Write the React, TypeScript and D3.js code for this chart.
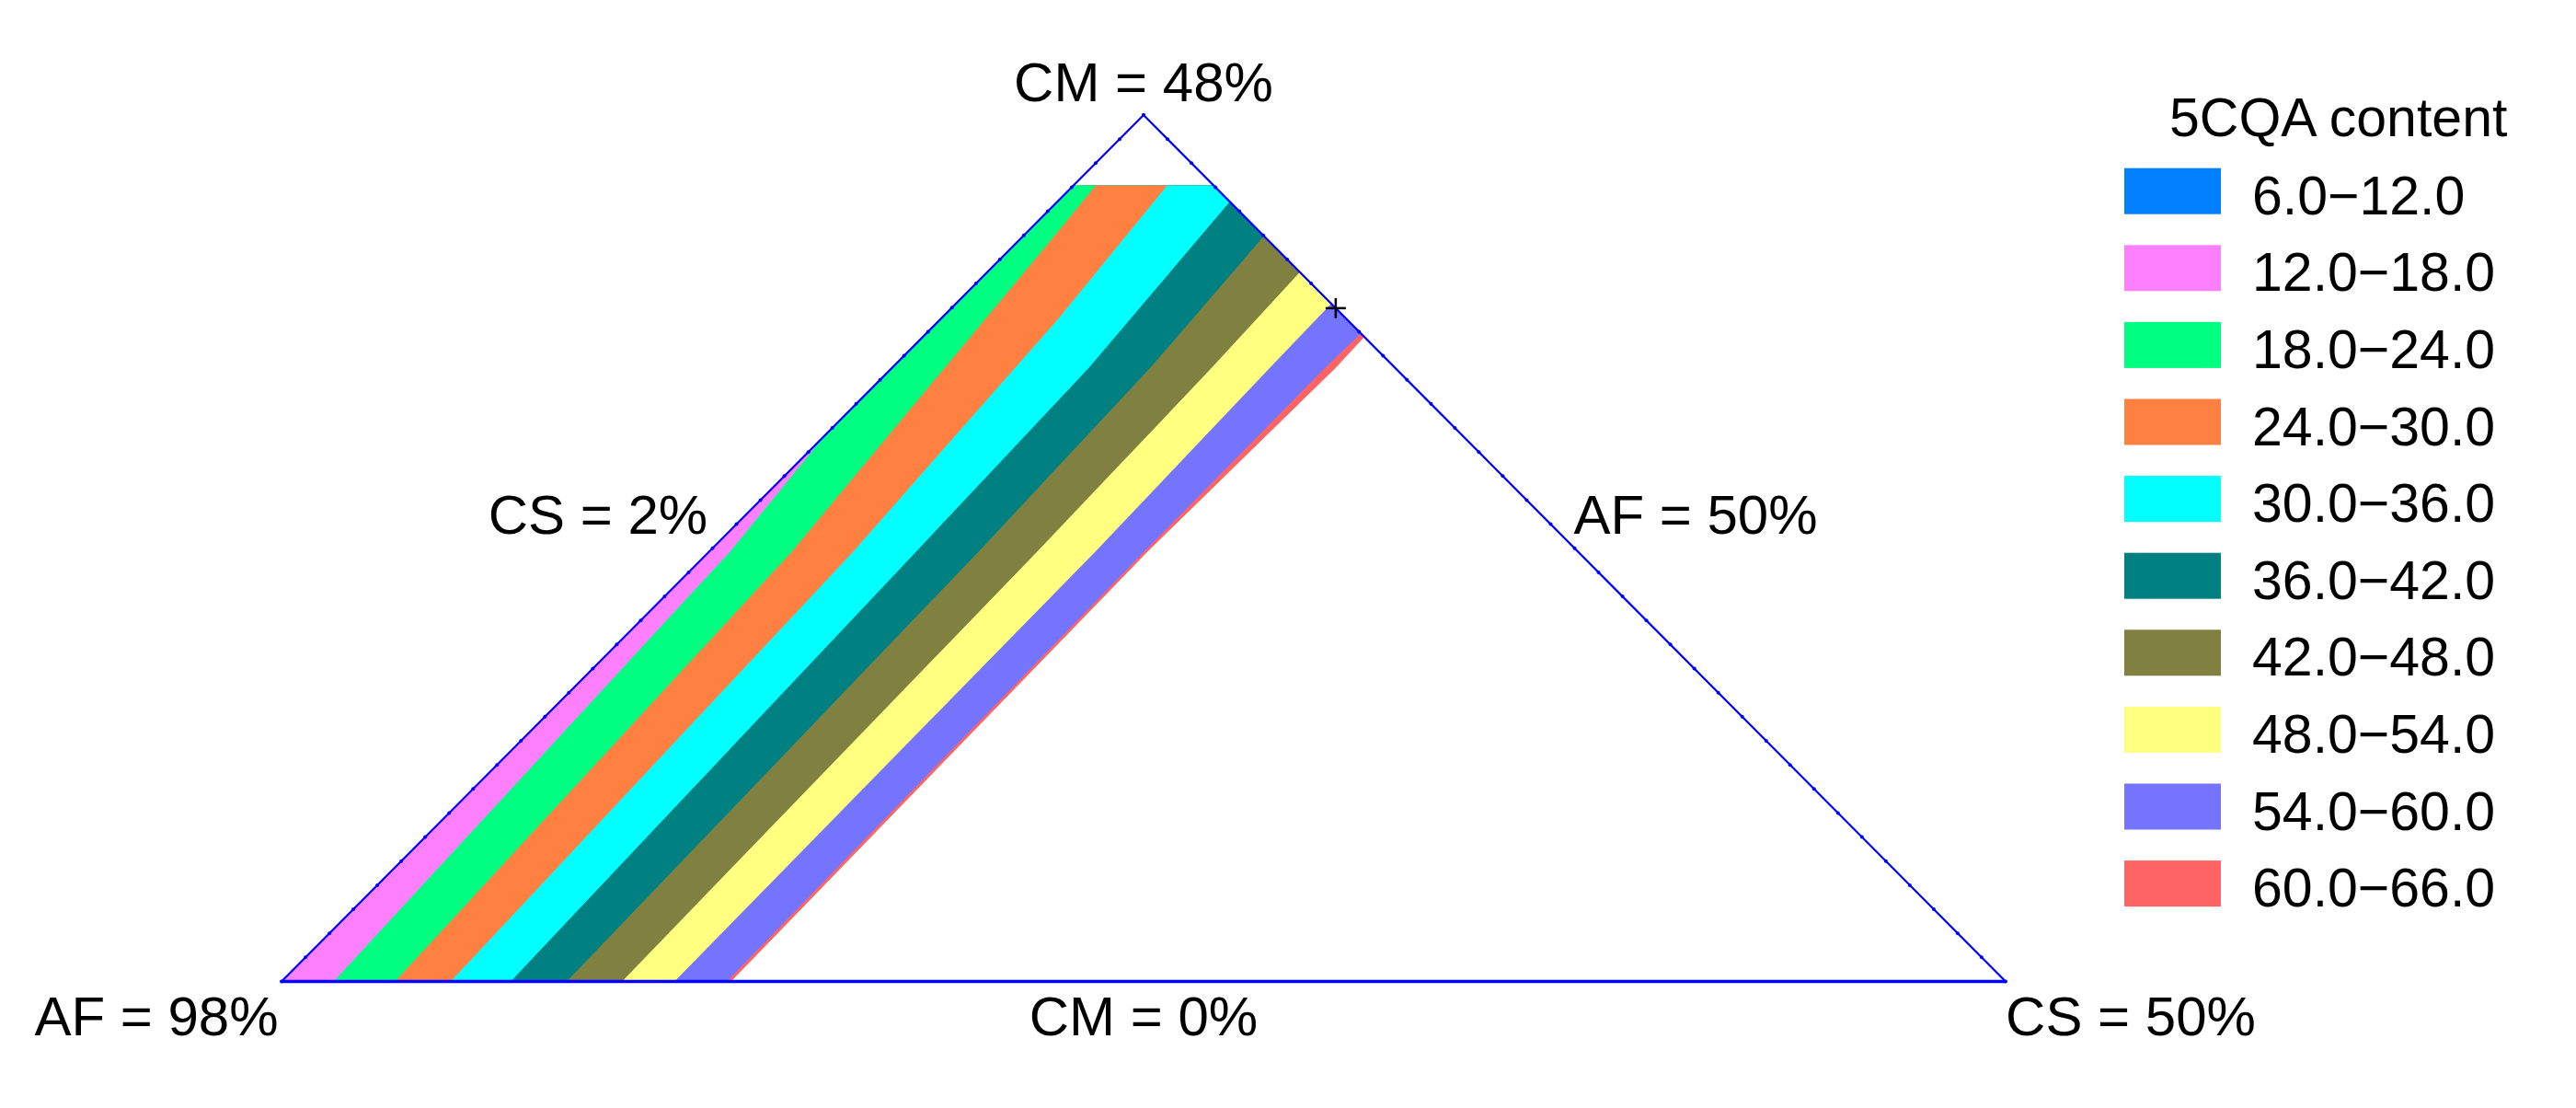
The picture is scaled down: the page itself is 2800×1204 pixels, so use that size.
import React from "react";
import * as d3 from "d3";

// ---------- data ----------
const legendTitle = "5CQA content";
const legendLabels = ["6.0−12.0", "12.0−18.0", "18.0−24.0", "24.0−30.0", "30.0−36.0", "36.0−42.0", "42.0−48.0", "48.0−54.0", "54.0−60.0", "60.0−66.0"];
const legendColors = ["#0080ff", "#ff80ff", "#00ff80", "#ff8040", "#00ffff", "#008080", "#808040", "#ffff80", "#7474ff", "#ff6464"];

// ternary sub-region limits (%)
const cmRange = [0, 48];
const csMin = 2;
const afMin = 50;
const cmCut = 44.1; // upper CM limit of the computed region

// contour boundaries: [CM %, CS %] pairs
const contour18 = [[0, 3.45], [23.8, 2.58], [30.3, 2.0]];
const contour24 = [[0, 5.16], [23.8, 4.3], [41.5, 2.85], [44.1, 2.62]];
const contour30 = [[0, 6.71], [23.8, 6.01], [36.7, 5.27], [44.1, 4.61]];
const contour36 = [[0, 8.38], [23.8, 7.76], [34, 7.48], [43.2, 6.8]];
const contour42 = [[0, 9.94], [23.8, 9.5], [34, 9.19], [41.3, 8.7]];
const contour48 = [[0, 11.48], [23.8, 11.13], [34, 10.9], [39.3, 10.7]];
const contour54 = [[0, 12.94], [23.8, 12.75], [34, 12.52], [37.55, 12.45]];
const contour60 = [[0, 14.4], [23.8, 14.11], [34, 14.06], [35.9, 14.1]];
const outerLimit = [[0, 14.52], [23.8, 14.21], [34, 14.36], [35.7, 14.3]];

// band index (into legend) painted to the low-CS side of each boundary
const boundaries = [
  { pts: outerLimit, band: 9 },
  { pts: contour60, band: 8 },
  { pts: contour54, band: 7 },
  { pts: contour48, band: 6 },
  { pts: contour42, band: 5 },
  { pts: contour36, band: 4 },
  { pts: contour30, band: 3 },
  { pts: contour24, band: 2 },
  { pts: contour18, band: 1 },
];

const optimumPoint = [37.3, 12.7]; // [CM, CS]

const vertexLabels = [
  { text: "CM = 48%", pos: "top" },
  { text: "AF = 98%", pos: "left" },
  { text: "CS = 50%", pos: "right" },
  { text: "CM = 0%", pos: "bottom" },
  { text: "CS = 2%", pos: "leftSide" },
  { text: "AF = 50%", pos: "rightSide" },
];

// ---------- layout ----------
const W = 2800;
const H = 1204;
const FONT = "'Liberation Sans', Arial, sans-serif";
const span = cmRange[1] - cmRange[0];

const yScale = d3.scaleLinear().domain(cmRange).range([1066.5, 125]);
const xScale = d3.scaleLinear().domain([0, 1]).range([306, 2180]);

function project(cm: number, cs: number): [number, number] {
  const u = (cm - cmRange[0]) / span;
  const v = (cs - csMin) / span;
  return [xScale(v + u / 2), yScale(cm)];
}

const line = d3.line<[number, number]>().x((d) => d[0]).y((d) => d[1]);

export default function App() {
  const csMax = 100 - afMin - cmRange[0]; // 50
  const bl = project(cmRange[0], csMin);
  const br = project(cmRange[0], csMax);
  const top = project(cmRange[1], csMin);

  // feasible (coloured) region
  const edgeEnd = outerLimit[outerLimit.length - 1];
  const region: [number, number][] = [
    project(0, csMin),
    project(cmCut, csMin),
    project(cmCut, 100 - afMin - cmCut),
    project(edgeEnd[0], edgeEnd[1]),
    ...outerLimit
      .slice(0, -1)
      .reverse()
      .map((p) => project(p[0], p[1])),
  ];

  const bandPath = (pts: number[][]) => {
    const proj = pts.map((p) => project(p[0], p[1]));
    const first = proj[0];
    const last = proj[proj.length - 1];
    const poly: [number, number][] = [
      ...proj,
      [last[0], -2000],
      [-2000, -2000],
      [-2000, 3000],
      [first[0], 3000],
    ];
    return line(poly) + "Z";
  };

  // small grid dots along the sides
  const dotSteps = d3.range(0, 37);
  const leftDots = dotSteps.map((i) => project((span * i) / 36, csMin));
  const rightDots = dotSteps.map((i) => project((span * i) / 36, csMax - (span * i) / 36));

  const opt = project(optimumPoint[0], optimumPoint[1]);

  const labelPos: Record<string, { x: number; y: number }> = {
    top: { x: top[0], y: 110 },
    left: { x: 170, y: 1125 },
    right: { x: 2316, y: 1125 },
    bottom: { x: (bl[0] + br[0]) / 2, y: 1125 },
    leftSide: { x: 650, y: 580 },
    rightSide: { x: 1843, y: 580 },
  };

  const legendX = 2309;
  const legendTop = 182.7;
  const legendStep = 83.6;
  const swW = 105;
  const swH = 50;

  return (
    <svg
      width={W}
      height={H}
      viewBox={`0 0 ${W} ${H}`}
      style={{ position: "absolute", left: 0, top: 0, background: "#fff" }}
    >
      <defs>
        <clipPath id="regionClip">
          <path d={line(region) + "Z"} />
        </clipPath>
      </defs>
      <rect x={0} y={0} width={W} height={H} fill="#fff" />
      <g clipPath="url(#regionClip)">
        {boundaries.map((b, i) => (
          <path key={i} d={bandPath(b.pts)} fill={legendColors[b.band]} stroke="none" />
        ))}
      </g>
      {/* triangle */}
      <path d={line([bl, top, br]) as string} fill="none" stroke="#0000ff" strokeWidth={2.2} />
      <line x1={bl[0]} y1={bl[1]} x2={br[0]} y2={br[1]} stroke="#0000ff" strokeWidth={3.5} />
      {leftDots.concat(rightDots).map((p, i) => (
        <circle key={i} cx={p[0]} cy={p[1]} r={2} fill="#0000ff" />
      ))}
      {/* optimum marker */}
      <g stroke="#000" strokeWidth={2.5}>
        <line x1={opt[0] - 11} y1={opt[1]} x2={opt[0] + 11} y2={opt[1]} />
        <line x1={opt[0]} y1={opt[1] - 11} x2={opt[0]} y2={opt[1] + 11} />
      </g>
      {/* vertex & side labels */}
      {vertexLabels.map((l) => (
        <text
          key={l.text}
          x={labelPos[l.pos].x}
          y={labelPos[l.pos].y}
          textAnchor="middle"
          fontFamily={FONT}
          fontSize={60}
          fill="#000"
        >
          {l.text}
        </text>
      ))}
      {/* legend */}
      <text x={2358} y={148} fontFamily={FONT} fontSize={59} fill="#000">
        {legendTitle}
      </text>
      {legendLabels.map((lab, i) => (
        <g key={lab}>
          <rect x={legendX} y={legendTop + i * legendStep} width={swW} height={swH} fill={legendColors[i]} />
          <text x={2448} y={legendTop + i * legendStep + swH} fontFamily={FONT} fontSize={59} fill="#000">
            {lab}
          </text>
        </g>
      ))}
    </svg>
  );
}
